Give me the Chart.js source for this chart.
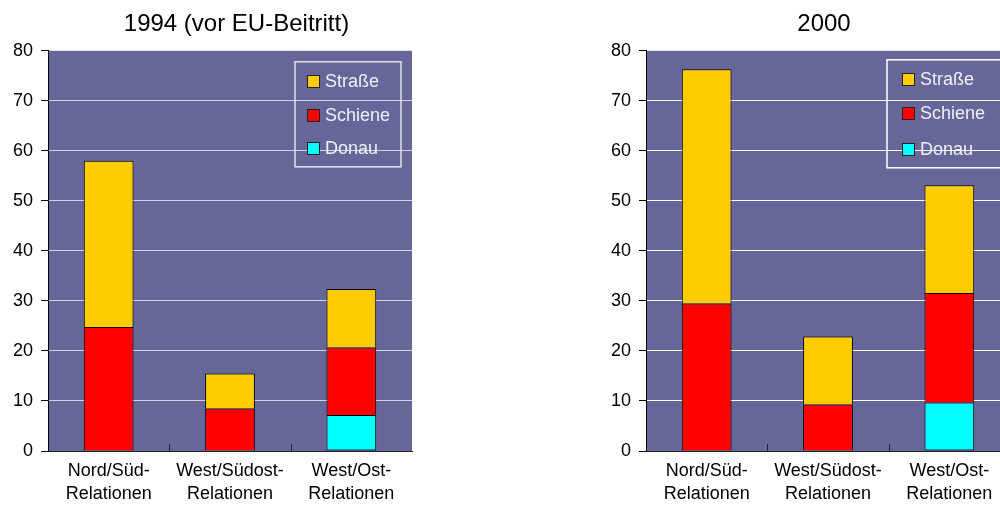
<!DOCTYPE html>
<html>
<head>
<meta charset="utf-8">
<script src="https://cdn.jsdelivr.net/npm/chart.js@4/dist/chart.umd.min.js"></script>
<style>
  html, body { margin: 0; padding: 0; background: #ffffff; overflow: hidden; width: 1000px; height: 512px; }
  .panel { position: absolute; top: 0; height: 512px; }
  #p1 { left: 0; width: 473px; }
  #p2 { left: 598px; width: 452px; }
</style>
</head>
<body>
<div class="panel" id="p1"><canvas id="c1"></canvas></div>
<div class="panel" id="p2"><canvas id="c2"></canvas></div>
<script>
// Transport relations (category labels, two lines each)
const categories = [
  ['Nord/Süd-', 'Relationen'],
  ['West/Südost-', 'Relationen'],
  ['West/Ost-', 'Relationen']
];

// 1994 (before EU accession) — stacked: Donau at the bottom, then Schiene, then Straße
const donau1994   = [null, null, 7.2];
const schiene1994 = [24.8, 8.5, 13.5];
const strasse1994 = [33.2, 7.0, 11.7];

// 2000
const donau2000   = [null, null, 9.7];
const schiene2000 = [29.5, 9.3, 21.9];
const strasse2000 = [46.8, 13.6, 21.5];

const yTicks = [0, 10, 20, 30, 40, 50, 60, 70, 80];

const FONT = '"Liberation Sans", Arial, sans-serif';
const PLOT_BG = '#666699';
const COLORS = { donau: '#00FFFF', schiene: '#FF0000', strasse: '#FFCC00' };

// Fills the plot area before grid and bars are painted
const plotBackground = {
  id: 'plotBackground',
  beforeDraw(chart) {
    const { ctx, chartArea: a } = chart;
    ctx.save();
    ctx.fillStyle = PLOT_BG;
    ctx.fillRect(a.left, a.top, a.right - a.left, a.bottom - a.top);
    ctx.restore();
  }
};

// Short category separator marks pointing up into the plot from the x axis
const innerCategoryTicks = {
  id: 'innerCategoryTicks',
  afterDraw(chart) {
    const { ctx, chartArea: a } = chart;
    const xs = chart.scales.x;
    ctx.save();
    ctx.strokeStyle = '#222222';
    ctx.lineWidth = 1;
    for (let i = 1; i < xs.ticks.length; i++) {
      const px = Math.round((xs.getPixelForValue(i - 1) + xs.getPixelForValue(i)) / 2) + 0.5;
      ctx.beginPath();
      ctx.moveTo(px, a.bottom - 7);
      ctx.lineTo(px, a.bottom);
      ctx.stroke();
    }
    ctx.restore();
  }
};

// Framed legend inside the plot, series listed top to bottom as they are stacked
const framedLegend = {
  id: 'framedLegend',
  afterDraw(chart, args, o) {
    const { ctx, chartArea: a } = chart;
    const x = a.left + o.dx, y = a.top + o.dy;
    ctx.save();
    ctx.strokeStyle = o.frameColor;
    ctx.lineWidth = 1.5;
    ctx.strokeRect(x, y, o.w, o.h);
    const sets = chart.data.datasets.slice().reverse();
    ctx.font = '18px ' + FONT;
    ctx.textBaseline = 'middle';
    ctx.textAlign = 'left';
    sets.forEach((d, i) => {
      const cy = Math.round(y + o.rows[i]);
      ctx.fillStyle = d.backgroundColor;
      ctx.fillRect(x + o.sx, cy - 6, 12, 12);
      ctx.strokeStyle = '#222222';
      ctx.lineWidth = 1;
      ctx.strokeRect(x + o.sx + 0.5, cy - 5.5, 12, 12);
      ctx.fillStyle = '#F0F0F8';
      ctx.fillText(d.label, x + o.tx, cy + 1);
    });
    ctx.restore();
  }
};

function makeChart(canvasId, title, donau, schiene, strasse, gridColor, rightSpace, legendOpts) {
  const barStyle = { borderColor: '#000000', borderWidth: 1, barPercentage: 0.41, categoryPercentage: 1.0 };
  return new Chart(document.getElementById(canvasId), {
    type: 'bar',
    data: {
      labels: categories,
      datasets: [
        Object.assign({ label: 'Donau', data: donau, backgroundColor: COLORS.donau, borderSkipped: false }, barStyle),
        Object.assign({ label: 'Schiene', data: schiene, backgroundColor: COLORS.schiene, borderSkipped: 'bottom' }, barStyle),
        Object.assign({ label: 'Straße', data: strasse, backgroundColor: COLORS.strasse, borderSkipped: 'bottom' }, barStyle)
      ]
    },
    options: {
      responsive: true,
      maintainAspectRatio: false,
      animation: false,
      layout: { padding: 0 },
      plugins: {
        legend: { display: false },
        tooltip: { enabled: false },
        title: {
          display: true,
          text: title,
          color: '#000000',
          font: { family: FONT, size: 24, weight: 'normal', lineHeight: 1.2 },
          padding: { top: 10, bottom: 12 }
        },
        framedLegend: legendOpts
      },
      scales: {
        x: {
          stacked: true,
          grid: { display: true, drawOnChartArea: false, drawTicks: false },
          border: { display: true, color: '#222222', width: 1 },
          ticks: {
            color: '#000000',
            font: { family: FONT, size: 18, lineHeight: 1.25 },
            padding: 9,
            maxRotation: 0,
            autoSkip: false
          },
          afterFit: s => { s.height = 61; }
        },
        y: {
          stacked: true,
          min: yTicks[0],
          max: yTicks[yTicks.length - 1],
          afterBuildTicks: s => { s.ticks = yTicks.map(v => ({ value: v })); },
          ticks: { color: '#000000', font: { family: FONT, size: 18 }, padding: 8 },
          grid: {
            color: c => (c.tick && c.tick.value === yTicks[yTicks.length - 1]) ? 'rgba(0,0,0,0)' : gridColor,
            tickColor: '#000000',
            tickLength: 7,
            lineWidth: 1
          },
          border: { display: true, color: '#000000', width: 1 },
          afterFit: s => { s.width = 48; }
        },
        // empty margin on the right so the title centres over the whole panel
        margin: {
          type: 'linear',
          position: 'right',
          display: true,
          grid: { display: false },
          border: { display: false },
          ticks: { display: false },
          afterFit: s => { s.width = rightSpace; }
        }
      }
    },
    plugins: [plotBackground, innerCategoryTicks, framedLegend]
  });
}

makeChart('c1', '1994 (vor EU-Beitritt)', donau1994, schiene1994, strasse1994,
  '#D4D4E4', 61,
  { dx: 247, dy: 11, w: 106, h: 105, sx: 12, tx: 30, rows: [19, 53, 86], frameColor: '#E4E4EE' });

makeChart('c2', '2000', donau2000, schiene2000, strasse2000,
  '#FFFFFF', 40,
  { dx: 241, dy: 9, w: 140, h: 108, sx: 15, tx: 33, rows: [19, 53, 89], frameColor: '#FFFFFF' });
</script>
</body>
</html>
